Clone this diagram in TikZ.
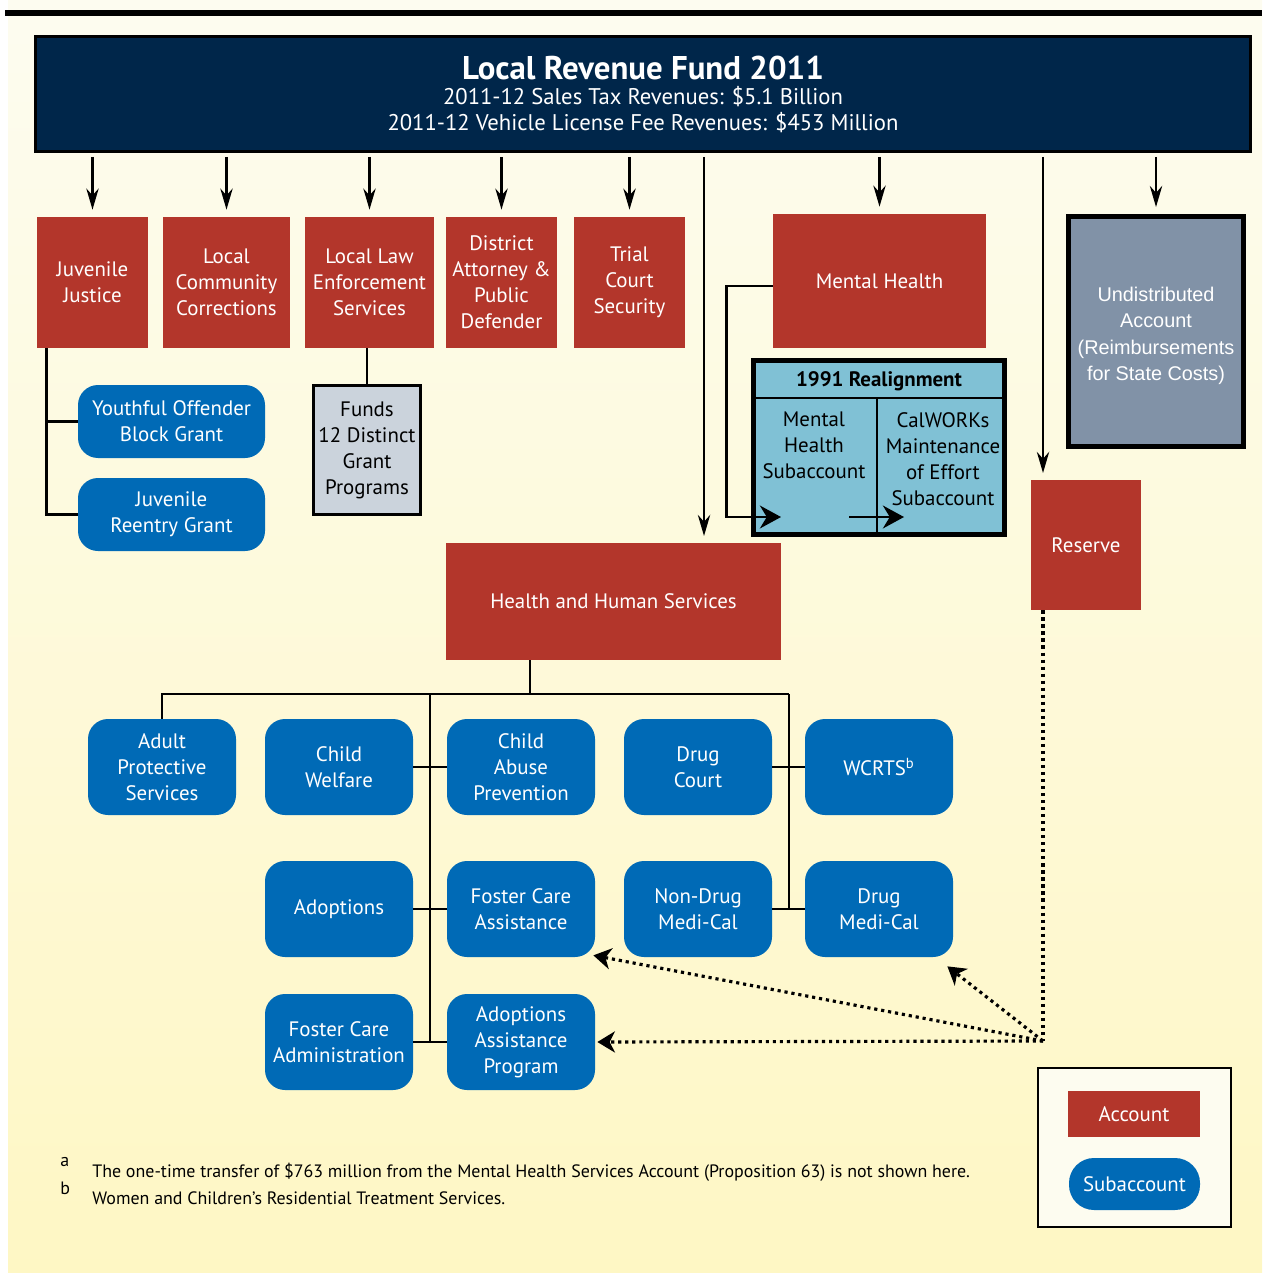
\documentclass[tikz,border=0pt]{standalone}
\usepackage{fontspec}
\setmainfont{PT Sans}
\newfontfamily\arialfont{Liberation Sans}
\usetikzlibrary{arrows.meta,positioning}
\definecolor{acctred}{HTML}{B3362B}
\definecolor{fundnavy}{HTML}{00264A}
\definecolor{subblue}{HTML}{006AB6}
\definecolor{realblue}{HTML}{80C1D5}
\definecolor{undistgray}{HTML}{8192A7}
\definecolor{grantgray}{HTML}{CBD3DC}
\definecolor{bgtop}{HTML}{FDFCF0}
\definecolor{bgbot}{HTML}{FEF7C4}
\newcommand\boxfont{\fontsize{11.9}{14.8}\selectfont}
\newcommand\notefont{\fontsize{10.2}{12}\selectfont}
\tikzset{
  boxsize/.style 2 args={minimum width=#1*0.02cm, minimum height=#2*0.02cm},
  acct/.style={fill=acctred, text=white, align=center, font=\boxfont, inner sep=0pt},
  subacct/.style={fill=subblue, rounded corners=0.4cm, text=white, align=center, font=\boxfont, inner sep=0pt},
  feed/.style={line width=1.4pt, -{Stealth[length=12pt,width=7pt]}, shorten <=0.08cm, shorten >=0.14cm},
  link/.style={line width=1.6pt},
  bigtip/.style={line width=1.6pt, -{Stealth[length=12pt,width=13pt]}},
  transfer/.style={line width=1.8pt, dash pattern=on 1.8pt off 2.2pt},
  transfertip/.style={transfer, -{Stealth[length=10pt,width=12pt,inset=3pt]}}
}
\begin{document}
\begin{tikzpicture}[x=0.02cm,y=-0.02cm]
\useasboundingbox (0,0) rectangle (1262,1273);
\shade[top color=bgtop, bottom color=bgbot] (8,0) rectangle (1262,1273);
\fill[black] (5,10) rectangle (1262,16);
\node[draw=black, line width=1.7pt, fill=fundnavy, text=white, align=center, boxsize={1215}{115}, inner sep=0pt,
  font=\fontsize{12.9}{14.8}\selectfont] (hdr) at (643,94)
  {{\fontsize{18.7}{20}\selectfont\bfseries Local Revenue Fund 2011}\\[-0.5pt]
   2011-12 Sales Tax Revenues: \$5.1 Billion\\
   2011-12 Vehicle License Fee Revenues: \$453 Million};
\node[acct, boxsize={111}{131}] (jj) at (92.5,282.5) {Juvenile\\Justice};
\node[acct, boxsize={127}{131}] (lcc) at (226.5,282.5) {Local\\Community\\Corrections};
\node[acct, boxsize={129}{131}] (lles) at (369.5,282.5) {Local Law\\Enforcement\\Services};
\node[acct, boxsize={111}{131}] (dapd) at (501.5,282.5) {District\\Attorney \&\\Public\\Defender};
\node[acct, boxsize={111}{131}] (tcs) at (629.5,282.5) {Trial\\Court\\Security};
\node[acct, boxsize={213}{134}] (mh) at (879.5,281) {Mental Health};
\node[draw=black, line width=2.8pt, fill=undistgray, boxsize={175}{230}, inner sep=0pt] (undist) at (1156,331.5) {};
\node[text=white, align=center, font=\arialfont\fontsize{11.3}{15}\selectfont] (undisttxt) at (1156,336)
  {Undistributed\\Account\\(Reimbursements\\for State Costs)};
\node[acct, boxsize={110}{130}] (reserve) at (1086,545) {Reserve};
\node[acct, boxsize={335}{117}] (hhs) at (613.5,601.5) {Health and Human Services};
\foreach \acc in {jj,lcc,lles,dapd,tcs,mh,undist}
  \draw[feed] (hdr.south -| \acc.north) -- (\acc.north);
\coordinate (hhsin) at (704,543);
\coordinate (resin) at (1043,480);
\draw[feed] (hdr.south -| hhsin) -- (hhsin);
\draw[feed] (hdr.south -| resin) -- (resin);
\node[subacct, boxsize={187}{73}] (yobg) at (171.5,421.5) {Youthful Offender\\Block Grant};
\node[subacct, boxsize={187}{73}] (jrg) at (171.5,514.5) {Juvenile\\Reentry Grant};
\draw[link] ([xshift=0.2cm]jj.south west) |- (yobg.west);
\draw[link] ([xshift=0.2cm]jj.south west) |- (jrg.west);
\node[draw=black, line width=1.7pt, fill=grantgray, align=center, font=\boxfont, boxsize={107}{129}, inner sep=0pt] (funds) at (367,450)
  {Funds\\12 Distinct\\Grant\\Programs};
\draw[link] (lles.south -| funds.north) -- (funds.north);
\node[draw=black, line width=2.8pt, fill=realblue, boxsize={251}{174}, inner sep=0pt] (realign) at (879,447.5) {};
\draw[link] ([yshift=-0.8cm]realign.north west) -- ([yshift=-0.8cm]realign.north east) coordinate (realrule);
\draw[link] ([xshift=-0.04cm]realign.south) -- ([xshift=-0.04cm]realign.south |- realrule);
\node[font=\boxfont\bfseries] (realtitle) at (879,381) {1991 Realignment};
\node[font=\boxfont, align=center, anchor=north] (mhsubtxt) at (814,406) {Mental\\Health\\Subaccount};
\node[font=\boxfont, align=center, anchor=north] (calsubtxt) at (943,406) {CalWORKs\\Maintenance\\of Effort\\Subaccount};
\coordinate (mhsub) at (781,517);
\coordinate (calout) at (849,517);
\coordinate (calin) at (904,517);
\draw[bigtip] ([yshift=-0.1cm]mh.west) -- ++(-46,0) |- (mhsub);
\draw[bigtip] (calout) -- (calin);
\node[subacct, boxsize={148}{96}] (apsc) at (162,767) {Adult\\Protective\\Services};
\node[subacct, boxsize={148}{96}] (cw) at (339,767) {Child\\Welfare};
\node[subacct, boxsize={148}{96}] (cap) at (521,767) {Child\\Abuse\\Prevention};
\node[subacct, boxsize={148}{96}] (dc) at (698,767) {Drug\\Court};
\node[subacct, boxsize={148}{96}] (wcrts) at (879,767) {WCRTS\textsuperscript{b}};
\node[subacct, boxsize={148}{96}] (adopt) at (339,909) {Adoptions};
\node[subacct, boxsize={148}{96}] (fcas) at (521,909) {Foster Care\\Assistance};
\node[subacct, boxsize={148}{96}] (ndmc) at (698,909) {Non-Drug\\Medi-Cal};
\node[subacct, boxsize={148}{96}] (dmc) at (879,909) {Drug\\Medi-Cal};
\node[subacct, boxsize={148}{96}] (fcadm) at (339,1042) {Foster Care\\Administration};
\node[subacct, boxsize={148}{96}] (aap) at (521,1042) {Adoptions\\Assistance\\Program};
\coordinate (bus) at (530,694);
\coordinate (trunkl) at (430,694);
\coordinate (trunkr) at (789,694);
\draw[link] (hhs.south -| bus) -- (bus);
\draw[link] (apsc.north) |- (trunkr);
\draw[link] (trunkl) -- (trunkl |- fcadm.east);
\draw[link] (trunkr) -- (trunkr |- dmc.west);
\draw[link] (cw.east) -- (cap.west);
\draw[link] (adopt.east) -- (fcas.west);
\draw[link] (fcadm.east) -- (aap.west);
\draw[link] (dc.east) -- (wcrts.west);
\draw[link] (ndmc.east) -- (dmc.west);
\coordinate (hub) at (1043,1041);
\draw[transfer] (reserve.south -| hub) -- (hub);
\draw[transfertip] (hub) -- ([xshift=0.04cm]aap.east);
\draw[transfertip] (hub) -- ([shift={(-2,-2)}]fcas.south east);
\draw[transfertip] (hub) -- ([shift={(-6,9)}]dmc.south east);
\node[draw=black, line width=1.5pt, fill=bgtop, boxsize={193}{159}, inner sep=0pt] (legend) at (1134.5,1147.5) {};
\node[acct, boxsize={132}{46}] (legacct) at (1134,1114) {Account};
\node[subacct, rounded corners=0.5cm, boxsize={131}{52}] (legsub) at (1134.5,1184) {Subaccount};
\node[font=\notefont, anchor=west, inner sep=0pt] (fna) at (60,1162) {a};
\node[font=\notefont, anchor=west, inner sep=0pt] (fnb) at (60,1188) {b};
\node[font=\notefont, anchor=west, inner sep=0pt] (fnatxt) at (92,1172) {The one-time transfer of \$763 million from the Mental Health Services Account (Proposition 63) is not shown here.};
\node[font=\notefont, anchor=west, inner sep=0pt] (fnbtxt) at (92,1198) {Women and Children’s Residential Treatment Services.};
\end{tikzpicture}
\end{document}
